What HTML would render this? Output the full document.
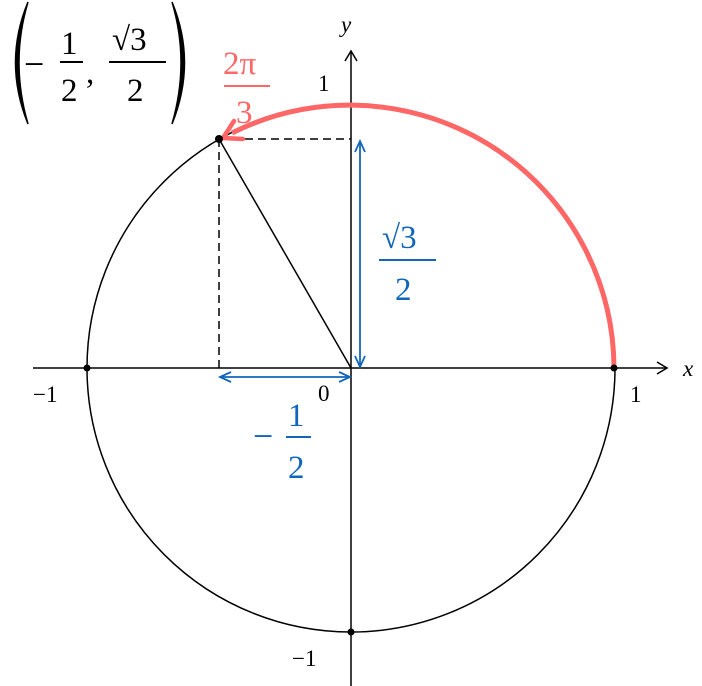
<!DOCTYPE html>
<html><head><style>body{margin:0;background:#fff}svg{display:block}</style></head><body>
<svg width="702" height="686" viewBox="0 0 702 686" xmlns="http://www.w3.org/2000/svg" font-family="Liberation Serif, serif">
<circle cx="351" cy="368" r="264" fill="none" stroke="#000" stroke-width="1.5"/>
<line x1="33" y1="368" x2="666" y2="368" stroke="#000" stroke-width="1.5"/>
<path d="M657,362 L667,368 L657,374" fill="none" stroke="#000" stroke-width="1.5"/>
<line x1="351" y1="686" x2="351" y2="52" stroke="#000" stroke-width="1.5"/>
<path d="M345,61 L351,51 L357,61" fill="none" stroke="#000" stroke-width="1.5"/>
<path d="M219,139 L351,139 M219,139 L219,368" stroke="#000" stroke-width="1.5" stroke-dasharray="8,5" fill="none"/>
<line x1="219" y1="139" x2="351" y2="368" stroke="#000" stroke-width="1.5"/>
<path d="M614,368 A264 264 0 0 0 232,133" fill="none" stroke="#ff6666" stroke-width="5"/>
<path d="M234,121 L223,138 L243,139" fill="none" stroke="#ff6666" stroke-width="4.5" stroke-linejoin="round" stroke-linecap="round"/>
<circle cx="219" cy="139" r="4" fill="#000"/>
<circle cx="87" cy="368" r="3.5" fill="#000"/>
<circle cx="614" cy="368" r="3.5" fill="#000"/>
<circle cx="351" cy="632" r="3.5" fill="#000"/>
<g stroke="#1166bb" stroke-width="1.8" fill="none">
<line x1="360" y1="142" x2="360" y2="366"/>
<path d="M355,152 L360,141 L365,152 M355,356 L360,367 L365,356"/>
<line x1="221" y1="377" x2="349" y2="377"/>
<path d="M231,372 L220,377 L231,382 M339,372 L350,377 L339,382"/>
</g>
<g font-size="23" fill="#000">
<text x="683" y="376" font-style="italic">x</text>
<text x="341" y="32" font-style="italic">y</text>
<text x="630" y="402">1</text>
<text x="33" y="402">−1</text>
<text x="318" y="401">0</text>
<text x="318" y="91">1</text>
<text x="292" y="666">−1</text>
</g>
<g fill="#1166bb" font-size="33">
<text x="382" y="248">√3</text>
<line x1="379" y1="260" x2="436" y2="260" stroke="#1166bb" stroke-width="2"/>
<text x="395" y="300">2</text>
<text x="253" y="448" font-size="36">−</text>
<text x="288" y="426">1</text>
<line x1="286" y1="437" x2="311" y2="437" stroke="#1166bb" stroke-width="2"/>
<text x="288" y="478">2</text>
</g>
<g fill="#ff6666" font-size="33">
<text x="223" y="74">2π</text>
<line x1="224" y1="86" x2="270" y2="86" stroke="#ff6666" stroke-width="2"/>
<text x="236" y="123">3</text>
</g>
<g fill="#000" font-size="33">
<path d="M28,2 Q3,62 28,124 Q10,62 28,2 Z" stroke="#000" stroke-width="1.5"/>
<path d="M172,2 Q197,62 172,124 Q190,62 172,2 Z" stroke="#000" stroke-width="1.5"/>
<text x="24" y="76" font-size="36">−</text>
<text x="61" y="54">1</text>
<line x1="60" y1="62" x2="83" y2="62" stroke="#000" stroke-width="2"/>
<text x="61" y="101">2</text>
<text x="86" y="83">,</text>
<text x="112" y="50">√3</text>
<line x1="109" y1="62" x2="166" y2="62" stroke="#000" stroke-width="2"/>
<text x="127" y="101">2</text>
</g>
</svg>
</body></html>
